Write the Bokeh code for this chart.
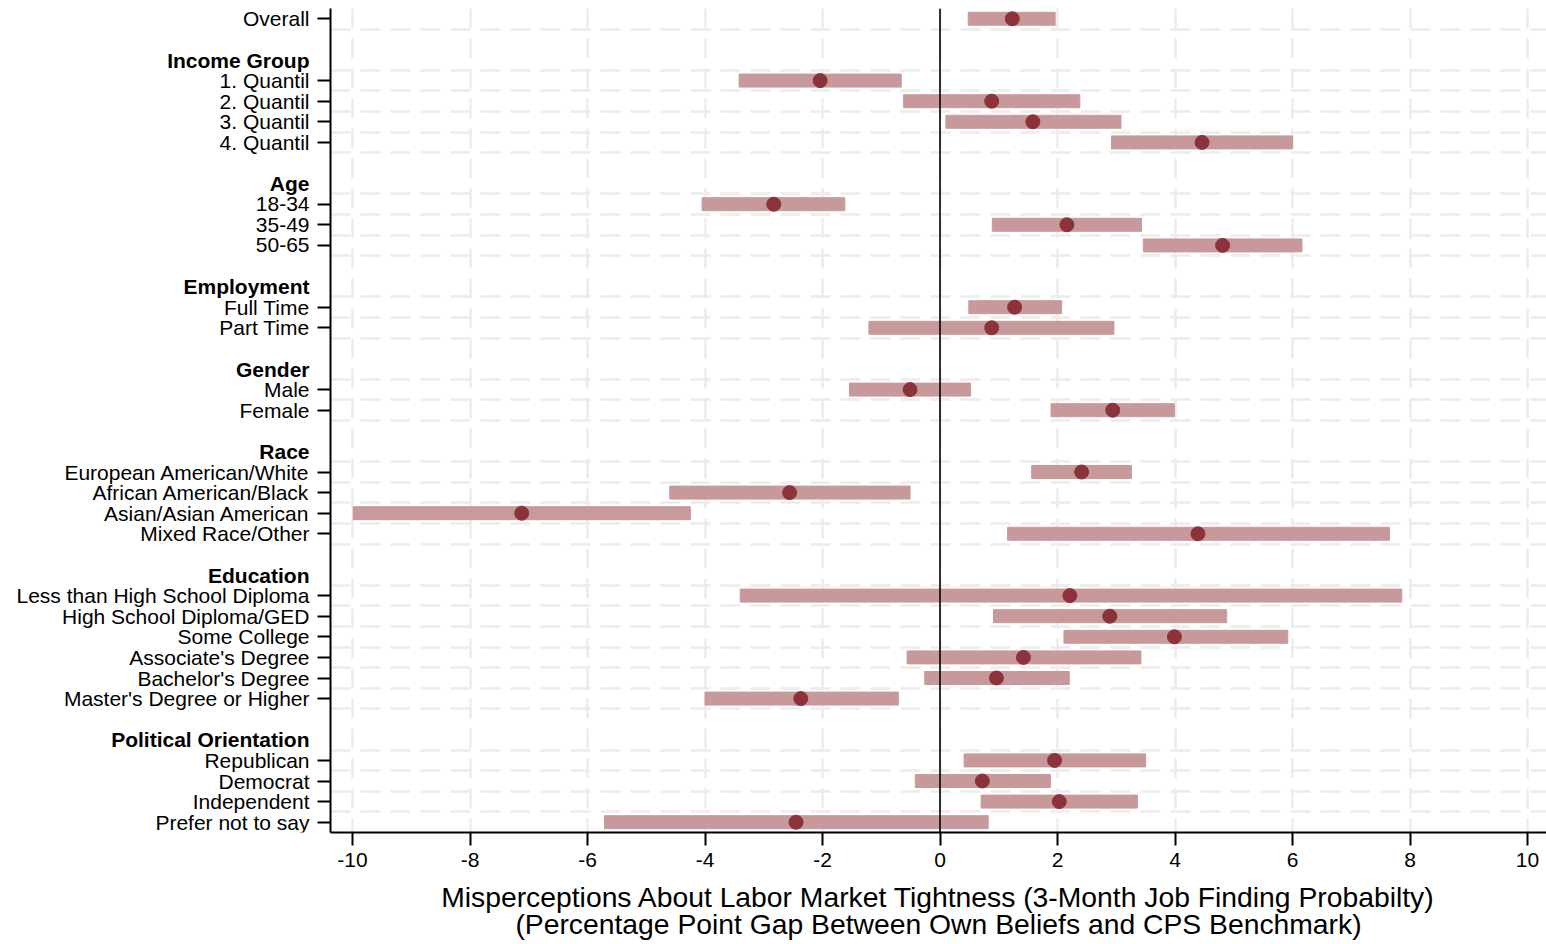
from bokeh.plotting import figure
from bokeh.layouts import row
from bokeh.models import Range1d, FixedTicker, Span, ColumnDataSource
from bokeh.core.properties import value
from bokeh.embed import file_html
from bokeh.resources import INLINE

# rows from top to bottom, "" = empty spacer row
row_labels = [
    "Overall", "",
    "Income Group", "1. Quantil", "2. Quantil", "3. Quantil", "4. Quantil", "",
    "Age", "18-34", "35-49", "50-65", "",
    "Employment", "Full Time", "Part Time", "",
    "Gender", "Male", "Female", "",
    "Race", "European American/White", "African American/Black",
    "Asian/Asian American", "Mixed Race/Other", "",
    "Education", "Less than High School Diploma", "High School Diploma/GED",
    "Some College", "Associate's Degree", "Bachelor's Degree",
    "Master's Degree or Higher", "",
    "Political Orientation", "Republican", "Democrat", "Independent",
    "Prefer not to say",
]
headers = ["Income Group", "Age", "Employment", "Gender", "Race",
           "Education", "Political Orientation"]

# point estimates and 95% CI, one per item row (in order)
coef = [1.23,
        -2.04, 0.88, 1.58, 4.46,
        -2.83, 2.16, 4.81,
        1.27, 0.88,
        -0.51, 2.94,
        2.41, -2.56, -7.12, 4.39,
        2.21, 2.89, 3.99, 1.42, 0.96, -2.37,
        1.95, 0.72, 2.03, -2.45]
ci_low = [0.48,
          -3.42, -0.62, 0.10, 2.92,
          -4.05, 0.89, 3.46,
          0.49, -1.21,
          -1.54, 1.89,
          1.56, -4.60, -9.99, 1.15,
          -3.40, 0.91, 2.11, -0.56, -0.26, -4.00,
          0.41, -0.42, 0.70, -5.71]
ci_high = [1.96,
           -0.66, 2.38, 3.08, 6.00,
           -1.62, 3.43, 6.16,
           2.07, 2.96,
           0.52, 3.99,
           3.26, -0.51, -4.25, 7.65,
           7.86, 4.88, 5.92, 3.42, 2.20, -0.71,
           3.50, 1.88, 3.36, 0.82]

x_ticks = list(range(-10, 11, 2))

item_rows = [i for i, s in enumerate(row_labels) if s and s not in headers]
header_rows = [i for i, s in enumerate(row_labels) if s in headers]
grid_rows = [i + 0.5 for i in range(len(row_labels) - 1)
             if row_labels[i + 1] not in headers]

src = ColumnDataSource(dict(y=item_rows, coef=coef, lo=ci_low, hi=ci_high))

FONT = "Liberation Sans"
W, H = 1546, 944
TOP, BOTTOM = 8, 112
LABEL_W, AXIS_W = 314, 16          # label column + room for the tick marks
x0, x1 = -10.3745, 10.323
n = len(row_labels)
y_range = Range1d(n - 0.5, -0.5)

# ---- label column (plain item names + bold group headings) ----
lab = figure(width=LABEL_W, height=H, x_range=Range1d(0, LABEL_W),
             y_range=y_range, output_backend="svg", toolbar_location=None,
             x_axis_location=None, y_axis_location=None,
             min_border_left=0, min_border_right=0,
             min_border_top=TOP, min_border_bottom=BOTTOM)
lab.outline_line_color = None
lab.grid.visible = False
lab.text(x=[LABEL_W - 5] * len(item_rows), y=item_rows,
         text=[row_labels[i] for i in item_rows],
         text_align="right", text_baseline="middle",
         text_font=value(FONT), text_font_size="21px", text_color="black")
lab.text(x=[LABEL_W - 5] * len(header_rows), y=header_rows,
         text=[row_labels[i] for i in header_rows],
         text_align="right", text_baseline="middle",
         text_font=value(FONT), text_font_size="21px",
         text_font_style="bold", text_color="black")

# ---- coefficient plot ----
p = figure(width=W - LABEL_W, height=H, x_range=Range1d(x0, x1),
           y_range=y_range, output_backend="svg", toolbar_location=None,
           min_border_left=AXIS_W, min_border_right=0, min_border_top=TOP,
           min_border_bottom=BOTTOM)
p.outline_line_color = None

p.hbar(y="y", left="lo", right="hi", height=0.63, source=src,
       fill_color="#c8999b", line_color="#c8999b")
p.scatter("coef", "y", source=src, size=14, fill_color="#8b323b",
          line_color="#8b323b")
p.add_layout(Span(location=0, dimension="height", line_color="black",
                  line_width=1.6))

# grids
for g in (p.xgrid, p.ygrid):
    g.grid_line_color = "#ececec"
    g.grid_line_width = 2.5
    g.grid_line_dash = "20 10"
p.xgrid.ticker = FixedTicker(ticks=x_ticks)
p.ygrid.ticker = FixedTicker(ticks=grid_rows)

# y axis: ticks only, names are drawn in the label column
p.yaxis.ticker = FixedTicker(ticks=item_rows)
p.yaxis.major_label_overrides = {i: "" for i in item_rows}
p.yaxis.major_label_text_font_size = "0px"
p.yaxis.major_label_standoff = 0
# x axis
p.xaxis.ticker = FixedTicker(ticks=x_ticks)
p.xaxis.major_label_overrides = {t: str(t) for t in x_ticks}
p.xaxis.major_label_text_font = FONT
p.xaxis.major_label_text_font_size = "21px"
p.xaxis.major_label_text_color = "black"
p.xaxis.major_label_standoff = 7
p.xaxis.axis_label = ("Misperceptions About Labor Market Tightness (3-Month Job Finding Probabilty)\n"
                      "(Percentage Point Gap Between Own Beliefs and CPS Benchmark)")
p.xaxis.axis_label_text_font = FONT
p.xaxis.axis_label_text_font_size = "28.3px"
p.xaxis.axis_label_text_font_style = "normal"
p.xaxis.axis_label_text_color = "black"
p.xaxis.axis_label_standoff = 11
p.xaxis.axis_label_text_line_height = 0.87

for ax in (p.xaxis, p.yaxis):
    ax.axis_line_color = "black"
    ax.axis_line_width = 2
    ax.major_tick_line_color = "black"
    ax.major_tick_line_width = 2
    ax.major_tick_out = 13
    ax.major_tick_in = 0
    ax.minor_tick_line_color = None

layout = row(lab, p)
open("out.html", "w").write(file_html(layout, INLINE))
